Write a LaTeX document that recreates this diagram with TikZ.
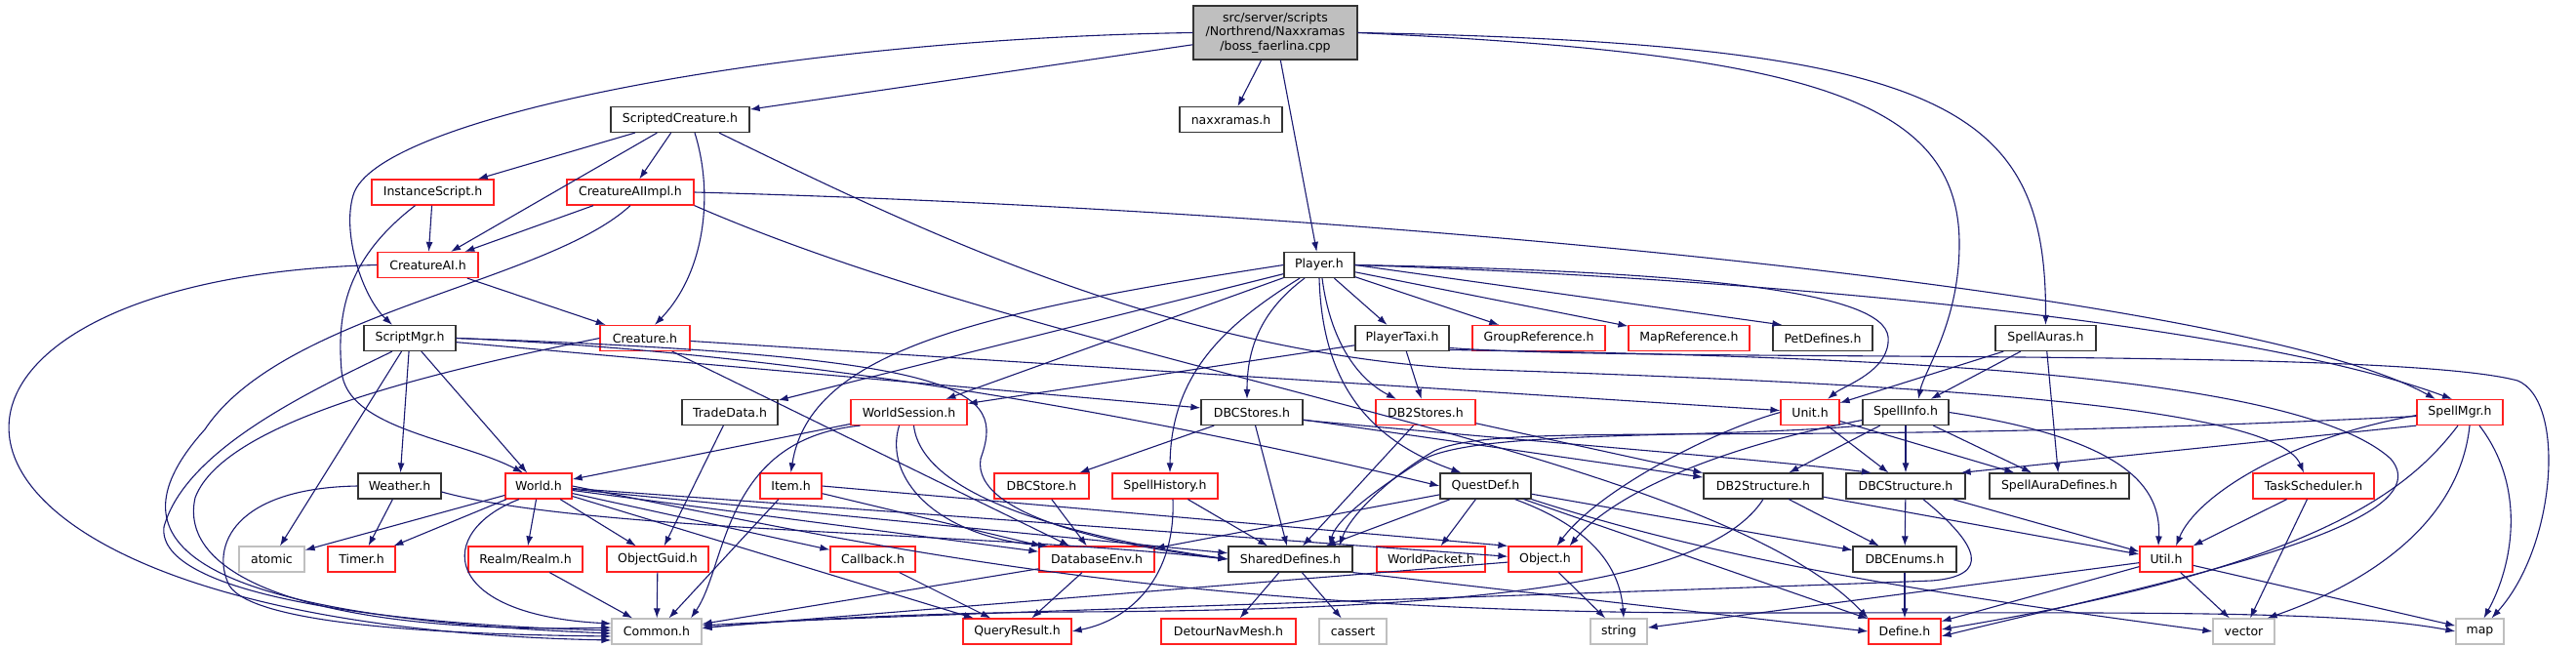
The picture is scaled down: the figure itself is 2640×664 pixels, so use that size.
\documentclass[tikz,border=0pt]{standalone}
\usepackage{fontspec}
\setmainfont{DejaVu Sans}
\usepackage{xcolor}
\usepackage{tikz}
\usetikzlibrary{arrows.meta}

\definecolor{edgeblue}{HTML}{191970}
\definecolor{boxred}{HTML}{FF2020}
\definecolor{boxgrey}{HTML}{BFBFBF}

\begin{document}
\begin{tikzpicture}[x=1pt, y=-1pt,
  >={Latex[length=10pt,width=7pt]},
  incl/.style={draw, rectangle, line width=1.2pt, minimum height=26pt, inner sep=0pt,
    font=\fontsize{12.5}{14.5}\selectfont},
  hdr/.style={incl, draw=black!80},
  trunc/.style={incl, draw=boxred},
  sys/.style={incl, draw=boxgrey},
  srcfile/.style={incl, draw=black!80, fill=boxgrey, align=center},
  dep/.style={->, draw=edgeblue, line width=1.1pt}]

\fill[white] (0,0) rectangle (2640,664);
\useasboundingbox (0,0) rectangle (2640,664);

% arquivo
\node[srcfile, minimum width=168pt, minimum height=55pt] (R) at (1307,33.5)
  {src/server/scripts\\/Northrend/Naxxramas\\/boss\_faerlina.cpp};

% cabeçalhos
\node[hdr, minimum width=142pt] (SC) at (697,122.5) {ScriptedCreature.h};
\node[hdr, minimum width=105pt] (NX) at (1261.5,122.5) {naxxramas.h};
\node[trunc, minimum width=125pt] (IS) at (443.5,197) {InstanceScript.h};
\node[trunc, minimum width=130pt] (AIi) at (646,197) {CreatureAIImpl.h};
\node[trunc, minimum width=103pt] (AI) at (438.5,271.5) {CreatureAI.h};
\node[hdr, minimum width=72pt] (PL) at (1352,271.5) {Player.h};
\node[hdr, minimum width=94pt] (SM) at (420,346.5) {ScriptMgr.h};
\node[trunc, minimum width=92pt] (CR) at (661,346.5) {Creature.h};
\node[hdr, minimum width=96pt] (PT) at (1437,346.5) {PlayerTaxi.h};
\node[trunc, minimum width=136pt] (GR) at (1577,346.5) {GroupReference.h};
\node[trunc, minimum width=124pt] (MR) at (1731,346.5) {MapReference.h};
\node[hdr, minimum width=102pt] (PD) at (1868,346.5) {PetDefines.h};
\node[hdr, minimum width=103pt] (SA) at (2096.5,346.5) {SpellAuras.h};
\node[hdr, minimum width=98pt] (TD) at (748,422.5) {TradeData.h};
\node[trunc, minimum width=119pt] (WS) at (931.5,422.5) {WorldSession.h};
\node[hdr, minimum width=104pt] (DS) at (1283,422.5) {DBCStores.h};
\node[trunc, minimum width=102pt] (D2S) at (1461,422.5) {DB2Stores.h};
\node[trunc, minimum width=60pt] (UN) at (1855,422.5) {Unit.h};
\node[hdr, minimum width=88pt] (SI) at (1953,422.5) {SpellInfo.h};
\node[trunc, minimum width=88pt] (SMg) at (2521,422.5) {SpellMgr.h};
\node[hdr, minimum width=85pt] (WE) at (409.5,498) {Weather.h};
\node[trunc, minimum width=68pt] (WO) at (552,498) {World.h};
\node[trunc, minimum width=63pt] (IT) at (810.5,498) {Item.h};
\node[trunc, minimum width=97pt] (DST) at (1067.5,498) {DBCStore.h};
\node[trunc, minimum width=108pt] (SH) at (1194,498) {SpellHistory.h};
\node[hdr, minimum width=93pt] (QD) at (1522.5,498) {QuestDef.h};
\node[hdr, minimum width=122pt] (D2T) at (1807,498) {DB2Structure.h};
\node[hdr, minimum width=122pt] (DT) at (1953,498) {DBCStructure.h};
\node[hdr, minimum width=143pt] (SAD) at (2110.5,498) {SpellAuraDefines.h};
\node[trunc, minimum width=124pt] (TS) at (2371,498) {TaskScheduler.h};
\node[sys, minimum width=67pt] (AT) at (278.5,573) {atomic};
\node[trunc, minimum width=69pt] (TI) at (370.5,573) {Timer.h};
\node[trunc, minimum width=117pt] (RE) at (538.5,573) {Realm/Realm.h};
\node[trunc, minimum width=104pt] (OG) at (674,573) {ObjectGuid.h};
\node[trunc, minimum width=87pt] (CB) at (894.5,573) {Callback.h};
\node[trunc, minimum width=118pt] (DE) at (1124,573) {DatabaseEnv.h};
\node[hdr, minimum width=127pt] (SD) at (1322.5,573) {SharedDefines.h};
\node[trunc, minimum width=111pt] (WP) at (1466.5,573) {WorldPacket.h};
\node[trunc, minimum width=75pt] (OB) at (1583.5,573) {Object.h};
\node[hdr, minimum width=106pt] (DEn) at (1952,573) {DBCEnums.h};
\node[trunc, minimum width=54pt] (UT) at (2220,573) {Util.h};
\node[sys, minimum width=92pt] (CO) at (673,647) {Common.h};
\node[trunc, minimum width=111pt] (QR) at (1042.5,647) {QueryResult.h};
\node[trunc, minimum width=138pt] (DN) at (1259,647) {DetourNavMesh.h};
\node[sys, minimum width=69pt] (CA) at (1386.5,647) {cassert};
\node[sys, minimum width=58pt] (ST) at (1659,647) {string};
\node[trunc, minimum width=74pt] (DF) at (1952,647) {Define.h};
\node[sys, minimum width=63pt] (VE) at (2299.5,647) {vector};
\node[sys, minimum width=49pt] (MP) at (2541.5,647) {map};

% includes do arquivo
\draw[dep] (R) -- (SC);
\draw[dep] (R) -- (NX);
\draw[dep] (R) -- (PL);
\draw[dep] (R.west) .. controls (800,40) and (385,120) .. (362,200) .. controls (350,240) and (372,305) .. ([xshift=-18pt]SM.north);
\draw[dep] (R.east) .. controls (1850,55) and (2008,100) .. (2008,250) .. controls (2008,330) and (1972,380) .. ([xshift=13pt]SI.north);
\draw[dep] (R.east) .. controls (2000,45) and (2097,110) .. (SA.north);

% ScriptedCreature.h e IA
\draw[dep] (SC) -- (IS);
\draw[dep] (SC) -- (AI);
\draw[dep] (SC) -- (AIi);
\draw[dep] ([xshift=15pt]SC.south) .. controls (732,200) and (722,280) .. ([xshift=10pt]CR.north);
\draw[dep] ([xshift=40pt]SC.south) .. controls (950,240) and (1200,360) .. (1500,378) .. controls (1900,392) and (2330,410) .. ([xshift=-10pt]TS.north);
\draw[dep] (IS) -- (AI);
\draw[dep] ([xshift=-18pt]IS.south) .. controls (355,265) and (345,320) .. (350,380) .. controls (355,440) and (470,450) .. ([xshift=-16pt]WO.north);
\draw[dep] (AIi) -- (AI);
\draw[dep] (AIi.south) .. controls (560,290) and (290,320) .. (210,440) .. controls (120,540) and (150,630) .. ([yshift=-2pt]CO.west);
\draw[dep] (AIi.south east) .. controls (1100,380) and (1750,460) .. (DF.north west);
\draw[dep] (AIi.east) .. controls (1400,215) and (2300,300) .. ([xshift=-25pt]SMg.north);
\draw[dep] (AI) -- (CR);
\draw[dep] (AI.west) .. controls (-150,285) and (-150,640) .. ([yshift=-9pt]CO.west);

% ScriptMgr.h e Creature.h
\draw[dep] ([xshift=-18pt]SM.south) .. controls (320,400) and (190,460) .. (168,540) .. controls (160,610) and (400,640) .. ([yshift=1pt]CO.west);
\draw[dep] (SM) -- (AT);
\draw[dep] (SM) -- (WE);
\draw[dep] (SM) -- (WO);
\draw[dep] (SM) -- (DS);
\draw[dep] (SM.east) .. controls (800,360) and (1150,420) .. (QD.west);
\draw[dep] (SM.east) .. controls (1000,365) and (1030,400) .. (1005,470) .. controls (995,530) and (1150,560) .. (SD.west);
\draw[dep] (CR) -- (UN);
\draw[dep] (CR.west) .. controls (450,380) and (230,430) .. (200,510) .. controls (180,600) and (350,650) .. ([yshift=4pt]CO.west);
\draw[dep] (CR) -- (DE);

% Player.h
\draw[dep] (PL) -- (PT);
\draw[dep] (PL) -- (GR);
\draw[dep] (PL) -- (MR);
\draw[dep] (PL.east) -- ([xshift=10pt]PD.north west);
\draw[dep] (PL.east) .. controls (1800,285) and (2300,330) .. ([xshift=-8pt]SMg.north);
\draw[dep] (PL.east) .. controls (1750,278) and (1930,300) .. (1935,345) .. controls (1938,380) and (1890,395) .. ([xshift=18pt]UN.north);
\draw[dep] (PL) -- (TD);
\draw[dep] (PL) -- (WS);
\draw[dep] (PL.west) .. controls (1000,320) and (830,360) .. (IT.north);
\draw[dep] ([xshift=-20pt]PL.south) .. controls (1260,330) and (1200,380) .. ([xshift=5pt]SH.north);
\draw[dep] ([xshift=-15pt]PL.south) .. controls (1290,320) and (1278,360) .. ([xshift=-5pt]DS.north);
\draw[dep] (PL.south) .. controls (1355,390) and (1400,450) .. ([xshift=-25pt]QD.north);
\draw[dep] ([xshift=3pt]PL.south) .. controls (1362,340) and (1385,385) .. ([xshift=-30pt]D2S.north);

% PlayerTaxi.h e SpellAuras.h
\draw[dep] (PT) -- (WS);
\draw[dep] (PT) -- (D2S);
\draw[dep] ([yshift=-10pt]PT.east) .. controls (1700,372) and (2450,355) .. (2580,390) .. controls (2630,410) and (2620,560) .. ([xshift=12pt]MP.north);
\draw[dep] ([yshift=-12pt]PT.east) .. controls (1900,365) and (2350,380) .. (2450,470) .. controls (2510,540) and (2200,600) .. ([yshift=-5pt]DF.east);
\draw[dep] (SA) -- (UN);
\draw[dep] (SA) -- (SI);
\draw[dep] (SA) -- (SAD);

% terceira linha
\draw[dep] (TD) -- (OG);
\draw[dep] (WS) -- (WO);
\draw[dep] ([xshift=-50pt]WS.south) .. controls (740,450) and (745,580) .. ([xshift=35pt]CO.north);
\draw[dep] ([xshift=-10pt]WS.south) .. controls (905,490) and (960,550) .. ([xshift=-50pt]DE.north);
\draw[dep] ([xshift=5pt]WS.south) .. controls (945,510) and (1100,550) .. (SD.west);
\draw[dep] (DS) -- (DST);
\draw[dep] (DS) -- (SD);
\draw[dep] ([yshift=-8pt]DS.east) .. controls (1600,455) and (1800,470) .. ([xshift=-35pt]DT.north);
\draw[dep] (DS) -- (D2T);
\draw[dep] (D2S) -- (SD);
\draw[dep] (D2S) -- (D2T);
\draw[dep] (UN) -- (DT);
\draw[dep] (UN) -- (SAD);
\draw[dep] (UN.west) .. controls (1760,440) and (1640,500) .. ([xshift=12pt]OB.north);
\draw[dep] (SI) -- (D2T);
\draw[dep] (SI) -- (DT);
\draw[dep] (SI) -- (SAD);
\draw[dep] (SI.east) .. controls (2180,450) and (2215,500) .. ([xshift=-8pt]UT.north);
\draw[dep] (SI.south west) .. controls (1750,450) and (1520,440) .. (1460,470) .. controls (1420,495) and (1370,530) .. ([xshift=40pt]SD.north);
\draw[dep] ([yshift=-8pt]SI.west) .. controls (1750,460) and (1650,510) .. ([xshift=25pt]OB.north);

% SpellMgr.h
\draw[dep] (SMg.south west) -- ([xshift=-5pt]DT.north east);
\draw[dep] ([yshift=-3pt]SMg.west) .. controls (2340,450) and (2250,510) .. ([xshift=10pt]UT.north);
\draw[dep] ([xshift=10pt]SMg.south) .. controls (2520,540) and (2420,600) .. ([xshift=-8pt]VE.north east);
\draw[dep] ([xshift=20pt]SMg.south) .. controls (2590,500) and (2575,580) .. ([xshift=4pt]MP.north);
\draw[dep] ([xshift=-2pt]SMg.south) .. controls (2470,500) and (2380,580) .. ([yshift=2pt]DF.east);
\draw[dep] ([yshift=-4pt]SMg.west) .. controls (1800,460) and (1540,430) .. (1470,462) .. controls (1430,485) and (1385,525) .. ([xshift=50pt]SD.north);

% Weather.h e World.h
\draw[dep] (WE) -- (TI);
\draw[dep] (WE.west) .. controls (240,500) and (215,560) .. (235,600) .. controls (260,640) and (450,650) .. ([yshift=-5pt]CO.west);
\draw[dep] ([yshift=-6pt]WE.east) .. controls (600,545) and (1000,545) .. (SD.west);
\draw[dep] (WO) -- (AT);
\draw[dep] (WO) -- (TI);
\draw[dep] (WO) -- (RE);
\draw[dep] (WO) -- (OG);
\draw[dep] (WO) -- (CB);
\draw[dep] ([xshift=-20pt]WO.south) .. controls (445,545) and (450,630) .. ([yshift=8pt]CO.west);
\draw[dep] (WO) -- (DE);
\draw[dep] (WO) -- (SD);
\draw[dep] (WO) -- (QR);
\draw[dep] (WO) -- (OB);
\draw[dep] (WO.east) .. controls (900,560) and (1200,630) .. (1800,628) .. controls (2200,628) and (2400,625) .. (MP.west);

% quarta linha
\draw[dep] (IT) -- (CO);
\draw[dep] (IT) -- (DE);
\draw[dep] (IT.east) -- (OB.north west);
\draw[dep] (DST) -- (DE);
\draw[dep] (SH) -- (SD);
\draw[dep] ([xshift=8pt]SH.south) .. controls (1205,590) and (1160,635) .. (QR.east);
\draw[dep] (QD) -- (SD);
\draw[dep] (QD) -- (WP);
\draw[dep] (QD) -- (DE);
\draw[dep] ([xshift=30pt]QD.south) .. controls (1630,540) and (1660,580) .. ([xshift=5pt]ST.north);
\draw[dep] (QD) -- (DEn);
\draw[dep] (QD) -- (DF);
\draw[dep] (QD.south east) .. controls (1750,570) and (1950,605) .. (VE.west);
\draw[dep] (D2T) -- (DEn);
\draw[dep] (D2T) -- (UT);
\draw[dep] (D2T.south) .. controls (1750,600) and (1500,625) .. (1100,627) .. controls (900,628) and (750,640) .. ([yshift=3pt]CO.east);
\draw[dep] (DT) -- (DEn);
\draw[dep] (DT) -- (UT);
\draw[dep] ([xshift=18pt]DT.south) .. controls (2030,560) and (2040,590) .. (1980,595) .. controls (1600,610) and (900,630) .. ([yshift=6pt]CO.east);
\draw[dep] (TS) -- (UT);
\draw[dep] (TS) -- (VE);

% quinta linha
\draw[dep] (DEn) -- (DF);
\draw[dep] (UT) -- (DF);
\draw[dep] (UT) -- (VE);
\draw[dep] (UT) -- (MP);
\draw[dep] (UT) -- (ST);
\draw[dep] (DE) -- (QR);
\draw[dep] (DE) -- (CO);
\draw[dep] (SD) -- (DN);
\draw[dep] (SD) -- (CA);
\draw[dep] (SD.south east) -- (DF.west);
\draw[dep] (OB) -- (ST);
\draw[dep] (OB) -- (CO);
\draw[dep] (OG) -- (CO);
\draw[dep] (RE) -- (CO);
\draw[dep] (CB) -- (QR);

\end{tikzpicture}
\end{document}
